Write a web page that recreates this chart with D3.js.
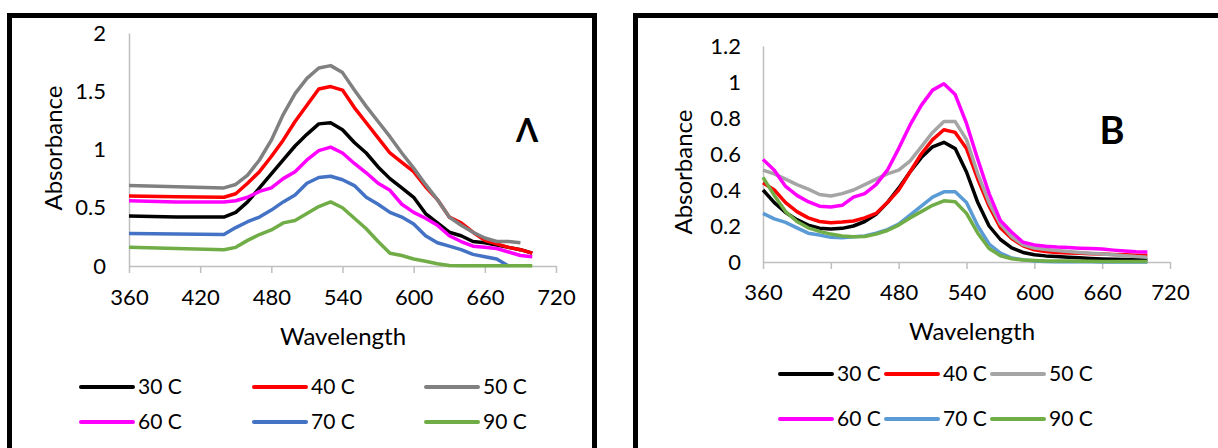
<!DOCTYPE html>
<html lang="en">
<head>
    <meta charset="UTF-8">
    <title>Absorbance vs Wavelength - A and B</title>
    <script src="https://d3js.org/d3.v7.min.js"></script>
    <style>
        body {
            margin: 0;
            background: #fff;
            font-family: 'Lato', 'Open Sans', sans-serif;
        }

        svg {
            display: block;
        }

        .axis path,
        .axis line {
            stroke: #bfbfbf;
            stroke-width: 1.5;
            fill: none;
        }

        .axis text {
            font-family: 'Lato', 'Open Sans', sans-serif;
            font-size: 22px;
            fill: #000;
        }

        .axis-label {
            font-size: 24px;
            text-anchor: middle;
            fill: #000;
        }

        .legend-text {
            font-size: 21px;
            fill: #000;
        }

        .series {
            fill: none;
            stroke-width: 3.5;
            stroke-linejoin: round;
        }
    </style>
</head>
<body>
    <svg width="1218" height="448"></svg>

    <script>
        const seriesNames = ['30 C', '40 C', '50 C', '60 C', '70 C', '90 C'];
        const xTicks = [360, 420, 480, 540, 600, 660, 720];
        const yTicksA = [0, 0.5, 1, 1.5, 2];
        const yTicksB = [0, 0.2, 0.4, 0.6, 0.8, 1, 1.2];

        // panel A
        const wavelengthsA = [360, 400, 440, 450, 460, 470, 480, 490, 500, 510, 520, 530, 540, 550, 560,
            570, 580, 590, 600, 610, 620, 630, 640, 650, 660, 670, 680, 690, 700];
        const a30 = [0.43, 0.42, 0.42, 0.46, 0.55, 0.67, 0.79, 0.91, 1.03, 1.13, 1.22, 1.23, 1.17, 1.06, 0.97,
            0.85, 0.75, 0.67, 0.59, 0.45, 0.37, 0.29, 0.26, 0.21, 0.20, 0.18, 0.16, 0.14, 0.11];
        const a40 = [0.60, 0.595, 0.59, 0.62, 0.71, 0.81, 0.94, 1.08, 1.24, 1.38, 1.52, 1.54, 1.51, 1.36, 1.23,
            1.10, 0.97, 0.89, 0.81, 0.68, 0.57, 0.42, 0.37, 0.29, 0.22, 0.19, 0.16, 0.14, 0.11];
        const a50 = [0.69, 0.68, 0.67, 0.70, 0.78, 0.91, 1.08, 1.30, 1.48, 1.61, 1.70, 1.72, 1.66, 1.51, 1.37,
            1.24, 1.11, 0.97, 0.84, 0.70, 0.57, 0.42, 0.35, 0.29, 0.24, 0.21, 0.21, 0.20, null];
        const a60 = [0.56, 0.55, 0.55, 0.56, 0.59, 0.64, 0.67, 0.75, 0.81, 0.91, 0.99, 1.02, 0.97, 0.88, 0.80,
            0.71, 0.65, 0.53, 0.46, 0.41, 0.35, 0.26, 0.21, 0.17, 0.16, 0.15, 0.12, 0.09, 0.08];
        const a70 = [0.28, 0.275, 0.27, 0.33, 0.38, 0.42, 0.48, 0.55, 0.61, 0.71, 0.76, 0.77, 0.74, 0.69, 0.59,
            0.53, 0.46, 0.42, 0.36, 0.26, 0.20, 0.17, 0.14, 0.10, 0.08, 0.06, 0.0, null, null];
        const a90 = [0.16, 0.15, 0.14, 0.16, 0.22, 0.27, 0.31, 0.37, 0.39, 0.45, 0.51, 0.55, 0.50, 0.41, 0.32,
            0.21, 0.11, 0.09, 0.06, 0.04, 0.02, 0.005, 0.003, 0.002, 0.002, 0.002, 0.002, 0.002, 0.002];

        // panel B
        const wavelengthsB = [360, 370, 380, 390, 400, 410, 420, 430, 440, 450, 460, 470, 480, 490, 500, 510,
            520, 530, 540, 550, 560, 570, 580, 590, 600, 610, 620, 630, 640, 650, 660, 670, 680, 690, 700];
        const b30 = [0.40, 0.33, 0.275, 0.235, 0.205, 0.188, 0.183, 0.187, 0.20, 0.225, 0.265, 0.33, 0.41, 0.50,
            0.58, 0.64, 0.665, 0.63, 0.50, 0.33, 0.20, 0.125, 0.078, 0.053, 0.04, 0.034, 0.03, 0.026, 0.023,
            0.02, 0.017, 0.015, 0.014, 0.013, 0.012];
        const b40 = [0.44, 0.40, 0.33, 0.28, 0.245, 0.225, 0.218, 0.222, 0.228, 0.245, 0.27, 0.33, 0.40, 0.50,
            0.60, 0.68, 0.735, 0.72, 0.63, 0.46, 0.31, 0.19, 0.13, 0.09, 0.068, 0.058, 0.053, 0.05, 0.048,
            0.046, 0.044, 0.042, 0.04, 0.038, 0.036];
        const b50 = [0.51, 0.49, 0.46, 0.43, 0.405, 0.375, 0.367, 0.38, 0.40, 0.43, 0.46, 0.49, 0.51, 0.56,
            0.64, 0.72, 0.78, 0.78, 0.68, 0.49, 0.33, 0.21, 0.14, 0.095, 0.078, 0.07, 0.064, 0.058, 0.053,
            0.048, 0.044, 0.04, 0.035, 0.03, 0.027];
        const b60 = [0.57, 0.51, 0.42, 0.37, 0.335, 0.31, 0.305, 0.315, 0.36, 0.38, 0.43, 0.51, 0.63, 0.76,
            0.87, 0.955, 0.99, 0.93, 0.77, 0.57, 0.38, 0.23, 0.165, 0.11, 0.095, 0.088, 0.083, 0.08, 0.077,
            0.075, 0.072, 0.066, 0.061, 0.057, 0.055];
        const b70 = [0.27, 0.24, 0.22, 0.19, 0.16, 0.15, 0.137, 0.135, 0.14, 0.145, 0.16, 0.18, 0.21, 0.26,
            0.31, 0.36, 0.39, 0.39, 0.33, 0.20, 0.10, 0.05, 0.022, 0.012, 0.006, 0.003, 0.002, 0.001, 0.001,
            0.001, 0.0, 0.0, 0.0, 0.0, 0.0];
        const b90 = [0.47, 0.37, 0.28, 0.225, 0.19, 0.17, 0.155, 0.145, 0.14, 0.142, 0.155, 0.175, 0.205, 0.245,
            0.28, 0.315, 0.34, 0.335, 0.27, 0.16, 0.075, 0.035, 0.018, 0.011, 0.008, 0.006, 0.005, 0.005, 0.004,
            0.004, 0.003, 0.003, 0.003, 0.003, 0.003];

        const colorsA = ['#000000', '#ff0000', '#808080', '#ff00ff', '#4472c4', '#70ad47'];
        const colorsB = ['#000000', '#ff0000', '#a5a5a5', '#ff00ff', '#5b9bd5', '#70ad47'];

        const svg = d3.select('svg');

        const panels = [
            {
                letter: 'Λ', letterSize: 32, letterX: 527, letterY: 131,
                frame: { x: 9.5, y: 15.5, w: 585, h: 500 },
                xRange: [129, 556], yDomain: [0, 2], yRange: [266, 33], yTicks: yTicksA,
                wl: wavelengthsA, series: [a30, a40, a50, a60, a70, a90], colors: colorsA,
                yLabel: { x: 54, y: 148 }, xLabel: { x: 343, y: 337 },
                xPad: 16, yPad: 23,
                legend: { cols: [81, 254, 426], rows: [387, 422] }
            },
            {
                letter: 'B', letterSize: 38, letterX: 1112, letterY: 131,
                frame: { x: 635.5, y: 15.5, w: 700, h: 500 },
                xRange: [763, 1170], yDomain: [0, 1.2], yRange: [262, 46], yTicks: yTicksB,
                wl: wavelengthsB, series: [b30, b40, b50, b60, b70, b90], colors: colorsB,
                yLabel: { x: 684, y: 172 }, xLabel: { x: 972, y: 332 },
                xPad: 15, yPad: 22,
                legend: { cols: [780, 886, 992], rows: [374, 419] }
            }
        ];

        panels.forEach(p => {
            const g = svg.append('g');

            // outer frame
            g.append('rect')
                .attr('x', p.frame.x)
                .attr('y', p.frame.y)
                .attr('width', p.frame.w)
                .attr('height', p.frame.h)
                .attr('fill', 'none')
                .attr('stroke', '#000')
                .attr('stroke-width', 5);

            const x = d3.scaleLinear().domain([360, 720]).range(p.xRange);
            const y = d3.scaleLinear().domain(p.yDomain).range(p.yRange);

            // X axis
            g.append('g')
                .attr('class', 'axis')
                .attr('transform', `translate(0,${y(0)})`)
                .call(d3.axisBottom(x).tickValues(xTicks).tickSize(7).tickSizeOuter(0).tickPadding(p.xPad));

            // Y axis
            g.append('g')
                .attr('class', 'axis')
                .attr('transform', `translate(${x(360)},0)`)
                .call(d3.axisLeft(y).tickValues(p.yTicks).tickFormat(d => String(d))
                    .tickSize(0).tickPadding(p.yPad));

            // lines
            const line = d3.line()
                .defined(d => d[1] !== null)
                .x(d => x(d[0]))
                .y(d => y(d[1]));

            p.series.forEach((vals, i) => {
                g.append('path')
                    .attr('class', 'series')
                    .attr('stroke', p.colors[i])
                    .attr('d', line(p.wl.map((w, j) => [w, vals[j]])));
            });

            // axis titles
            g.append('text')
                .attr('class', 'axis-label')
                .attr('transform', `translate(${p.yLabel.x},${p.yLabel.y}) rotate(-90)`)
                .attr('dy', '0.35em')
                .text('Absorbance');

            g.append('text')
                .attr('class', 'axis-label')
                .attr('x', p.xLabel.x)
                .attr('y', p.xLabel.y)
                .attr('dy', '0.35em')
                .text('Wavelength');

            // panel letter
            g.append('text')
                .attr('x', p.letterX)
                .attr('y', p.letterY)
                .attr('dy', '0.35em')
                .attr('text-anchor', 'middle')
                .style('font-size', p.letterSize + 'px')
                .style('font-weight', 'bold')
                .text(p.letter);

            // legend
            seriesNames.forEach((name, i) => {
                const lx = p.legend.cols[i % 3];
                const ly = p.legend.rows[Math.floor(i / 3)];
                g.append('line')
                    .attr('x1', lx).attr('x2', lx + 52)
                    .attr('y1', ly).attr('y2', ly)
                    .attr('stroke', p.colors[i])
                    .attr('stroke-width', 4)
                    .attr('stroke-linecap', 'round');
                g.append('text')
                    .attr('class', 'legend-text')
                    .attr('x', lx + 57)
                    .attr('y', ly)
                    .attr('dy', '0.35em')
                    .text(name);
            });
        });
    </script>
</body>
</html>
